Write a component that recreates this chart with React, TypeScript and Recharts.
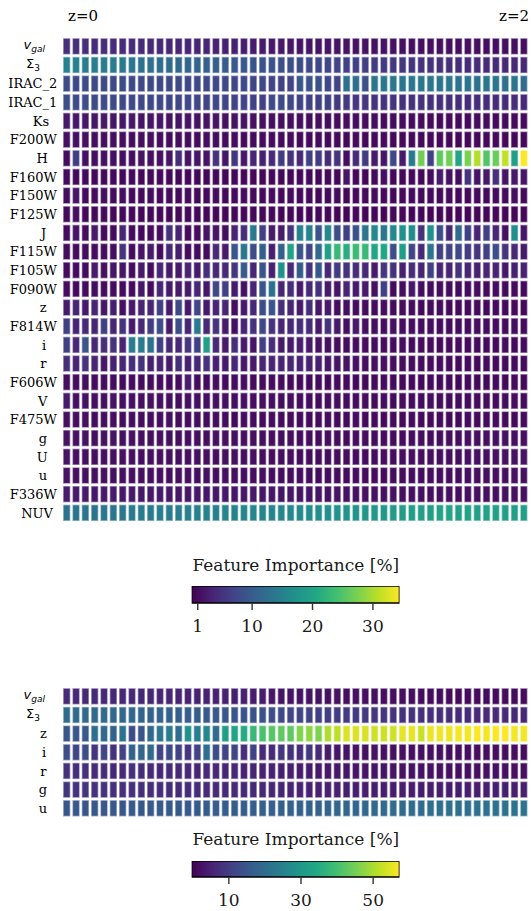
import React from 'react';
import { BarChart, Bar, XAxis, YAxis } from 'recharts';

const SERIF = '"DejaVu Serif", serif';
const SANS = '"DejaVu Sans", sans-serif';
const COLUMNS = 50;

// ---- top panel: feature importance [%] per redshift bin (z=0 .. z=2) ----
const topVgal = [4.6,4.5,4.5,4.4,4.5,4.3,4.3,4.2,4.2,4.0, 4.0,3.8,3.8,3.6,3.5,3.4,3.2,3.0,3.0,2.8, 2.6,2.5,2.3,2.2,2.1,2.0,2.0,1.9,1.9,1.8, 1.8,1.7,1.7,1.6,1.6,1.6,1.5,1.5,1.5,1.5, 1.4,1.4,1.4,1.4,1.3,1.3,1.3,1.3,1.3,1.3];
const topSigma3 = [15.0,14.8,14.6,14.5,14.3,14.2,14.0,13.5,13.0,12.6, 12.3,12.0,11.6,11.3,11.0,10.7,10.4,10.0,9.6,9.3, 9.0,8.8,8.6,8.4,8.2,7.9,7.6,7.3,7.1,6.9, 6.7,6.5,6.3,6.0,5.8,5.6,5.5,5.3,5.1,5.0, 4.8,4.7,4.5,4.4,4.3,4.2,4.1,4.0,3.9,3.8];
const topIrac2 = [7.8,7.6,7.8,7.7,7.5,7.6,7.8,7.4,7.5,7.7, 7.3,7.5,7.6,7.2,7.4,7.5,7.3,7.6,7.2,7.4, 7.0,7.2,6.8,6.6,6.9,9.2,8.8,8.5,7.2,7.0, 12.8,12.5,8.4,13.5,13.8,13.6,13.5,13.8,13.6,13.4, 13.2,13.6,12.9,13.4,13.0,13.5,13.3,12.8,13.4,12.2];
const topIrac1 = [8.0,7.9,8.1,7.8,7.8,7.9,7.6,7.7,7.5,7.4, 7.6,7.3,7.2,7.4,7.1,7.0,7.2,6.9,6.8,7.0, 6.7,6.6,7.6,7.8,7.5,6.8,6.6,6.4,6.5,5.8, 5.6,5.4,5.5,5.2,5.0,5.1,4.9,4.8,5.0,4.7, 4.6,4.7,4.5,4.4,4.5,4.3,4.4,4.2,4.3,4.1];
const topKs = [2.4,2.2,2.3,2.1,2.2,2.0,2.1,2.2,1.9,2.0, 2.1,1.8,1.9,2.0,1.7,1.8,1.9,1.6,1.7,1.8, 1.6,1.5,1.5,1.4,1.3,1.4,1.2,1.3,1.2,1.1, 1.3,1.2,1.1,1.2,1.0,1.1,1.2,1.0,1.1,1.0, 0.9,1.1,1.0,0.9,1.0,1.1,0.9,1.0,0.9,1.0];
const topF200W = [1.6,1.5,1.4,1.5,1.3,1.4,1.5,1.2,1.3,1.4, 1.2,1.1,1.3,1.2,1.0,1.1,1.2,1.0,1.1,0.9, 1.0,1.1,1.0,0.9,1.0,0.8,0.9,1.0,0.8,0.9, 0.8,0.9,0.7,0.8,0.9,0.7,0.8,0.7,0.8,0.9, 0.7,0.8,0.7,0.8,0.7,0.8,0.9,0.7,0.8,0.7];
const topH = [1.2,6.2,1.5,1.3,1.6,1.4,1.5,1.3,1.8,1.4, 1.6,2.0,4.5,1.8,2.0,1.8,5.0,2.0,5.5,2.2, 3.5,3.0,4.0,6.0,5.0,4.0,6.5,6.0,4.2,5.0, 1.5,4.2,6.0,2.5,2.0,7.5,2.5,14.0,27.0,6.5, 26.0,27.0,20.0,27.5,30.5,25.0,26.5,31.2,19.5,34.4];
const topF160W = [0.9,0.8,0.9,0.7,0.8,0.9,0.7,0.8,0.7,0.8, 0.9,0.7,0.8,0.7,0.6,0.7,0.8,0.6,0.7,0.6, 0.7,0.8,0.8,0.7,0.6,0.7,0.8,0.6,0.7,0.6, 1.8,0.7,0.6,0.8,1.5,0.7,0.6,0.8,0.7,1.0, 2.5,1.6,1.2,5.2,2.0,2.2,4.6,2.0,2.4,2.0];
const topF150W = [1.2,2.0,1.0,1.1,1.3,1.0,1.1,0.9,1.0,1.2, 0.9,1.0,0.9,1.1,0.8,0.9,1.0,0.8,0.9,1.0, 0.8,0.9,1.0,0.9,1.2,0.9,1.0,0.8,0.9,1.0, 0.8,0.9,0.8,1.0,0.9,0.8,0.9,1.0,0.8,0.9, 0.8,1.0,0.9,0.8,0.9,0.8,1.0,0.9,1.5,0.9];
const topF125W = [0.8,1.5,0.8,0.7,0.9,0.7,0.8,0.7,0.6,0.8, 0.7,0.6,0.7,0.8,0.6,0.7,0.6,0.7,0.8,0.6, 0.7,0.6,0.7,0.6,0.7,0.6,0.5,0.7,0.6,0.5, 0.6,0.7,0.5,0.6,0.5,0.6,0.7,0.5,0.6,0.5, 0.6,0.5,0.7,0.6,0.5,0.6,0.5,0.6,0.5,0.6];
const topJ = [1.0,2.0,1.0,2.5,1.0,1.0,3.5,1.0,0.9,1.0, 1.2,4.8,3.4,1.0,1.1,2.0,2.0,1.2,3.4,4.5, 14.0,6.5,2.5,2.5,5.0,15.0,15.0,9.0,16.0,8.0, 6.5,8.5,13.5,16.0,13.5,16.0,17.0,16.5,5.0,17.0, 8.0,3.5,12.0,6.5,3.5,6.5,3.5,1.5,16.5,2.0];
const topF115W = [1.0,1.0,1.2,1.1,1.0,1.1,5.0,1.0,2.0,2.5, 1.0,4.0,3.0,1.1,1.0,1.0,4.0,2.5,9.0,13.5, 8.0,10.5,2.8,10.5,19.8,9.0,7.0,12.0,19.5,23.0, 21.5,23.5,23.0,20.0,20.5,8.0,19.0,7.0,4.0,13.5, 6.5,7.0,7.5,6.0,5.5,6.5,8.0,5.0,4.0,2.5];
const topF105W = [1.0,1.0,1.0,2.5,1.5,2.0,2.0,1.0,2.5,1.0, 3.5,2.5,2.5,3.5,2.5,4.5,4.0,4.0,5.5,10.0, 3.5,9.0,3.0,17.0,4.0,10.0,5.0,9.5,4.0,6.0, 5.0,4.5,4.0,2.5,5.5,5.0,3.0,4.5,3.5,6.5, 3.5,3.5,5.0,3.5,3.0,3.5,3.2,2.3,3.0,3.2];
const topF090W = [1.0,0.9,1.0,1.2,1.0,1.1,1.0,1.0,2.3,1.0, 3.5,2.5,2.5,2.5,3.5,2.0,7.5,6.5,2.5,1.5, 3.5,9.0,13.0,3.5,4.5,2.5,4.0,5.0,2.5,2.0, 3.5,2.5,2.5,1.5,6.5,1.0,1.2,2.3,1.2,1.0, 1.1,1.0,0.9,1.0,1.1,0.9,1.0,0.9,1.0,0.9];
const topZ = [2.5,3.5,2.5,3.5,2.3,3.0,1.3,2.5,3.5,3.5, 6.5,2.5,7.5,2.5,7.0,2.5,3.5,3.5,1.3,2.5, 3.8,8.0,9.0,4.5,3.5,2.5,4.5,2.3,2.5,1.2, 1.5,1.2,1.1,1.0,1.1,1.0,1.1,1.0,0.9,1.0, 1.1,0.9,1.0,0.9,1.0,0.9,1.0,0.9,1.0,0.9];
const topF814W = [6.5,3.5,4.0,3.5,6.5,3.5,5.0,2.5,4.0,6.0, 8.0,2.5,8.0,3.5,14.0,4.0,5.0,2.5,1.5,3.5, 5.0,7.5,5.0,3.5,3.8,4.5,4.3,2.5,5.0,2.5, 1.5,2.5,1.5,1.3,1.2,1.5,1.2,1.3,1.1,1.2, 1.0,1.1,1.2,1.0,1.1,1.0,1.2,1.0,1.1,1.0];
const topI = [6.5,4.0,9.0,4.0,4.5,5.0,3.5,14.5,14.5,13.0, 6.5,4.0,4.0,5.5,6.5,19.5,4.0,2.5,4.5,2.5, 2.0,6.5,4.5,2.5,2.5,3.0,2.5,1.8,1.5,1.3, 1.2,1.3,1.1,1.2,1.0,1.1,1.2,1.0,1.1,1.0, 0.9,1.0,1.1,0.9,1.0,0.9,1.0,1.1,0.9,1.0];
const topR = [4.5,3.5,5.0,3.5,2.3,3.0,3.5,4.5,5.0,3.0, 3.5,2.5,4.5,3.0,3.8,5.0,3.0,2.5,3.8,2.3, 2.5,3.5,3.5,3.5,3.5,3.3,3.2,3.0,2.2,2.0, 1.8,1.6,1.5,1.5,1.4,1.3,1.3,1.2,1.2,1.1, 1.1,1.0,1.0,1.0,0.9,1.0,0.9,1.0,0.9,1.0];
const topF606W = [1.3,1.1,1.2,1.0,1.1,1.2,1.0,1.1,1.0,1.2, 1.1,1.0,1.2,2.8,1.1,1.0,1.2,1.0,1.1,1.3, 1.0,1.1,1.0,1.1,0.9,1.0,0.9,1.0,0.8,0.9, 1.0,0.8,0.9,0.8,0.9,1.0,0.8,0.9,0.8,0.9, 0.8,0.9,0.8,0.9,0.8,0.8,0.9,0.8,0.9,0.8];
const topV = [2.5,1.5,1.6,1.4,1.5,1.8,1.4,1.5,1.4,1.6, 1.5,1.4,1.3,1.5,1.4,1.3,1.4,1.6,1.3,1.4, 1.3,1.4,1.3,1.2,1.3,1.2,1.1,1.2,1.1,1.2, 1.1,1.0,1.1,1.0,1.1,1.0,1.1,1.0,1.0,1.1, 1.0,1.0,1.1,1.0,1.0,1.1,1.0,1.0,1.1,1.0];
const topF475W = [1.5,1.3,1.4,1.2,1.3,1.4,1.2,1.3,1.2,1.3, 1.2,1.4,1.2,1.1,1.3,1.2,1.1,1.2,0.8,1.1, 1.2,1.0,1.1,1.0,1.1,1.0,1.0,1.1,1.0,0.9, 1.0,1.0,0.9,1.0,0.9,1.0,0.9,1.0,0.9,0.9, 1.0,0.9,0.9,1.0,0.9,0.9,1.0,0.9,0.9,1.0];
const topG = [1.8,1.6,1.7,1.5,1.6,1.7,1.5,1.6,1.5,1.4, 1.6,1.5,1.4,1.5,1.4,1.3,1.5,1.4,1.3,1.4, 1.3,1.4,1.3,1.2,1.3,1.2,1.3,1.2,1.1,1.2, 1.1,1.2,1.1,1.2,1.1,1.2,1.1,1.2,1.3,1.2, 1.3,1.4,1.3,1.4,1.5,1.4,1.5,1.6,1.5,1.6];
const topUpperU = [1.7,1.6,1.6,1.5,1.6,1.5,1.6,1.5,1.4,1.5, 1.6,1.4,1.5,1.4,1.5,1.4,1.3,1.4,1.5,1.3, 1.4,1.3,1.3,1.2,1.3,1.2,1.2,1.3,1.2,1.1, 1.2,1.2,1.1,1.2,1.3,1.2,1.3,1.4,1.3,1.4, 1.5,1.4,1.5,1.6,1.5,1.6,1.7,1.6,1.7,1.8];
const topLowerU = [1.7,1.5,1.6,1.5,1.4,1.5,1.6,1.4,1.5,1.4, 1.5,1.3,1.4,1.5,1.3,1.4,1.3,1.4,1.3,1.2, 1.3,1.4,1.2,1.3,1.2,1.1,1.2,1.1,1.2,1.1, 1.0,1.1,1.0,1.1,1.0,1.1,1.2,1.1,1.2,1.3, 1.2,1.3,1.4,1.3,1.4,1.5,1.4,1.5,1.6,1.5];
const topF336W = [2.6,2.4,2.5,2.3,2.4,2.5,2.3,2.4,2.2,2.3, 2.4,2.2,2.3,2.1,2.2,2.3,2.1,2.2,2.0,2.1, 2.2,2.0,2.0,1.9,2.0,1.8,1.9,1.8,1.7,1.8, 1.7,1.6,1.7,1.6,1.5,1.6,1.5,1.4,1.5,1.4, 1.5,1.4,1.3,1.4,1.5,1.4,1.5,1.4,1.5,1.6];
const topNUV = [13.0,13.2,13.3,13.0,13.5,13.4,13.6,14.0,14.2,14.0, 14.5,14.3,14.6,14.8,15.0,15.2,15.0,15.5,15.3,15.6, 15.8,15.5,15.6,15.8,15.9,16.2,16.5,16.8,17.0,17.4, 17.6,17.5,17.9,18.2,18.4,18.6,18.8,19.0,19.4,19.2, 19.8,20.0,19.6,19.8,19.5,19.9,19.6,19.4,19.2,19.0];

const topLabels = ['v_gal', 'Σ3', 'IRAC_2', 'IRAC_1', 'Ks', 'F200W', 'H', 'F160W', 'F150W', 'F125W', 'J', 'F115W', 'F105W', 'F090W', 'z', 'F814W', 'i', 'r', 'F606W', 'V', 'F475W', 'g', 'U', 'u', 'F336W', 'NUV'];
const topRows = [topVgal, topSigma3, topIrac2, topIrac1, topKs, topF200W, topH, topF160W, topF150W, topF125W, topJ, topF115W, topF105W, topF090W, topZ, topF814W, topI, topR, topF606W, topV, topF475W, topG, topUpperU, topLowerU, topF336W, topNUV];
const topRange: [number, number] = [0, 34.4];
const topTicks = [1, 10, 20, 30];

// ---- bottom panel ----
const botVgal = [6.5,6.4,6.3,6.4,6.2,6.1,6.0,6.1,5.9,5.8, 5.7,5.6,5.5,5.3,5.2,5.0,4.9,4.8,4.6,4.5, 4.3,4.2,3.2,3.0,2.9,2.8,2.6,2.5,2.4,2.3, 2.2,2.1,2.0,2.0,1.9,1.8,1.8,1.7,1.7,1.6, 1.6,1.5,1.5,1.5,1.4,1.4,1.4,1.3,1.3,1.3];
const botSigma3 = [19.8,19.6,19.5,19.3,19.4,19.0,18.8,18.5,18.3,18.0, 17.6,17.3,17.0,16.6,16.3,16.0,15.6,15.3,15.0,14.7, 14.4,14.0,13.2,12.0,11.8,11.2,10.8,10.5,10.2,9.8, 9.5,9.2,9.0,8.7,8.5,8.2,8.0,7.8,7.6,7.4, 7.2,7.0,6.9,6.8,6.6,6.5,6.4,6.3,6.2,6.1];
const botZ = [15.0,15.0,15.5,20.5,19.0,18.0,21.5,13.0,15.0,19.0, 22.0,23.5,20.0,28.5,24.0,26.0,19.5,31.5,33.0,35.0, 38.0,40.5,42.0,43.0,43.0,46.5,47.5,46.0,50.5,51.5, 54.3,54.3,54.0,53.2,53.2,53.0,55.2,55.2,52.5,55.8, 55.9,55.8,56.6,56.3,57.3,56.6,57.0,57.3,56.3,56.3];
const botI = [13.5,11.5,13.5,8.5,11.5,8.0,11.0,18.0,18.5,19.5, 11.0,13.0,11.0,8.5,11.0,20.5,13.0,11.0,11.5,7.0, 11.0,6.5,6.5,8.5,8.0,7.0,9.0,6.5,4.0,3.0, 2.8,2.6,2.4,2.5,2.3,2.2,2.4,2.1,2.2,2.0, 2.1,1.9,2.0,1.9,1.8,1.9,1.8,1.7,1.8,1.7];
const botR = [8.0,7.0,7.5,6.5,7.0,6.0,6.5,7.5,7.0,6.5, 6.0,7.0,6.5,6.0,5.5,6.5,6.0,5.5,6.0,5.0, 5.5,5.0,5.0,4.5,4.8,4.2,4.0,3.8,3.5,3.3, 3.2,3.0,3.0,2.8,2.8,2.6,2.6,2.5,2.5,2.4, 2.4,2.3,2.3,2.2,2.2,2.1,2.1,2.0,2.0,2.0];
const botG = [8.5,8.0,8.3,7.8,8.0,7.6,7.8,7.4,7.5,7.2, 7.3,7.0,7.1,6.8,6.9,6.6,6.7,6.4,6.5,6.2, 6.3,6.0,5.8,5.6,5.5,5.3,5.2,5.0,4.9,4.8, 4.7,4.6,4.5,4.4,4.4,4.3,4.3,4.2,4.2,4.3, 4.3,4.4,4.4,4.5,4.5,4.6,4.6,4.7,4.8,4.8];
const botU = [15.0,15.2,14.8,15.4,15.2,15.5,15.1,15.6,15.4,15.8, 15.6,16.0,15.7,16.2,16.0,16.4,16.1,16.6,16.4,16.8, 16.6,17.0,17.0,17.3,17.4,17.6,17.9,18.0,18.2,18.5, 18.6,18.8,19.1,19.2,19.4,19.7,19.8,20.0,20.3,20.4, 20.6,20.8,21.0,20.9,21.2,21.1,21.4,21.3,21.6,21.5];

const botLabels = ['v_gal', 'Σ3', 'z', 'i', 'r', 'g', 'u'];
const botRows = [botVgal, botSigma3, botZ, botI, botR, botG, botU];
const botRange: [number, number] = [-0.3, 57.3];
const botTicks = [10, 30, 50];

const VIRIDIS = ['#440154', '#482475', '#414487', '#355f8d', '#2a788e', '#21918c', '#22a884', '#44bf70', '#7ad151', '#bddf26', '#fde725'];

const hexRgb = (h: string) => [1, 3, 5].map(i => parseInt(h.slice(i, i + 2), 16));

function viridis(t: number): string {
  const c = Math.max(0, Math.min(1, t)) * (VIRIDIS.length - 1);
  const i = Math.min(Math.floor(c), VIRIDIS.length - 2);
  const f = c - i;
  const a = hexRgb(VIRIDIS[i]);
  const b = hexRgb(VIRIDIS[i + 1]);
  const m = a.map((v, k) => Math.round(v + (b[k] - v) * f));
  return `rgb(${m[0]},${m[1]},${m[2]})`;
}

let measureCtx: CanvasRenderingContext2D | null = null;
function textWidth(s: string, font: string) {
  if (!measureCtx) measureCtx = document.createElement('canvas').getContext('2d');
  if (!measureCtx) return s.length * 8;
  measureCtx.font = font;
  return measureCtx.measureText(s).width;
}

const RowLabel = (props: any) => {
  const { y, payload, labels } = props;
  const label = labels[Math.floor(payload.value)];
  if (label === 'v_gal') {
    return (
      <text x={45} y={y + 3} textAnchor="end" fontFamily={SANS} fill="#000">
        <tspan fontSize={13} fontStyle="italic">v</tspan>
        <tspan fontSize={9} fontStyle="italic" dy={3}>gal</tspan>
      </text>
    );
  }
  if (label === 'Σ3') {
    return (
      <text x={40} y={y + 3.5} textAnchor="end" fontFamily={SANS} fill="#000">
        <tspan fontSize={13}>Σ</tspan>
        <tspan fontSize={9} dy={3}>3</tspan>
      </text>
    );
  }
  const w = textWidth(label, '13px "DejaVu Serif"');
  return (
    <text x={45 - 0.25 * w} y={y + 4.7} textAnchor="middle" fontFamily={SERIF} fontSize={13} fill="#000">
      {label}
    </text>
  );
};

const HeatCell = (props: any) => {
  const { x, y, width, height, color } = props;
  const top = Math.min(y, y + height);
  const h = Math.abs(height);
  const cx = x + width / 2;
  const w = 7.3;
  return (
    <rect x={cx - w / 2} y={top + 1.15} width={w} height={Math.max(h - 2.3, 0)}
      fill={color} stroke="#ffffff" strokeOpacity={0.5} strokeWidth={1.5} />
  );
};

function Heatmap({ rows, labels, range, top }: { rows: number[][]; labels: string[]; range: [number, number]; top: number }) {
  const data = Array.from({ length: COLUMNS }, (_, c) => {
    const o: any = { col: c };
    rows.forEach((_, r) => { o['r' + r] = 1; });
    return o;
  });
  const ticks = rows.map((_, i) => i + 0.5);
  const height = rows.length * 18.66;
  return (
    <div style={{ position: 'absolute', left: 0, top }}>
      <BarChart width={531} height={height} data={data} margin={{ top: 0, right: 2.3, bottom: 0, left: 2.2 }} barCategoryGap={0} barGap={0}>
        <XAxis dataKey="col" type="category" hide />
        <YAxis type="number" domain={[0, rows.length]} reversed ticks={ticks} interval={0} width={60}
          axisLine={false} tickLine={false} tickSize={0} tickMargin={0} allowDataOverflow
          tick={<RowLabel labels={labels} />} />
        {rows.map((row, r) => (
          <Bar key={r} dataKey={'r' + r} stackId="s" isAnimationActive={false}
            shape={(p: any) => <HeatCell {...p} color={viridis((row[p.payload.col] - range[0]) / (range[1] - range[0]))} />} />
        ))}
      </BarChart>
    </div>
  );
}

function Colorbar({ top, range, ticks, id, barHeight }: { top: number; range: [number, number]; ticks: number[]; id: string; barHeight: number }) {
  const data = [{ name: 'cb', v: [range[0], range[1]] }];
  return (
    <div style={{ position: 'absolute', left: 0, top }}>
      <BarChart layout="vertical" width={531} height={barHeight + 40} data={data}
        margin={{ top: 0, left: 191.7, right: 131.5, bottom: 0 }} barCategoryGap={0}>
        <defs>
          <linearGradient id={id} x1="0" y1="0" x2="1" y2="0">
            {VIRIDIS.map((c, i) => <stop key={i} offset={`${(i / (VIRIDIS.length - 1)) * 100}%`} stopColor={c} />)}
          </linearGradient>
        </defs>
        <XAxis type="number" domain={range} ticks={ticks} interval={0} allowDataOverflow height={40}
          axisLine={false} tickSize={7} tickMargin={10}
          tickLine={{ stroke: '#333', strokeWidth: 1.4 }}
          tick={{ fill: '#1a1a1a', fontSize: 17, fontFamily: SERIF }} />
        <YAxis type="category" dataKey="name" hide />
        <Bar dataKey="v" fill={`url(#${id})`} stroke="#000" strokeWidth={1.6} isAnimationActive={false} />
      </BarChart>
    </div>
  );
}

export default function App() {
  return (
    <div style={{ position: 'absolute', left: 0, top: 0, width: 531, height: 911, background: '#fff', overflow: 'hidden' }}>
      <Heatmap rows={topRows} labels={topLabels} range={topRange} top={36.5} />
      <Colorbar top={586} range={topRange} ticks={topTicks} id="cbTop" barHeight={17} />
      <Heatmap rows={botRows} labels={botLabels} range={botRange} top={687.1} />
      <Colorbar top={861} range={botRange} ticks={botTicks} id="cbBot" barHeight={16} />
      <svg width={531} height={911} style={{ position: 'absolute', left: 0, top: 0, pointerEvents: 'none' }}>
        <text x={68} y={20.5} fontFamily={SERIF} fontSize={15} fill="#000">z=0</text>
        <text x={499} y={20.5} fontFamily={SERIF} fontSize={15} fill="#000">z=2</text>
        <text x={295.8} y={570.5} textAnchor="middle" fontFamily={SERIF} fontSize={17} fill="#1a1a1a">Feature Importance [%]</text>
        <text x={295.8} y={844.5} textAnchor="middle" fontFamily={SERIF} fontSize={17} fill="#1a1a1a">Feature Importance [%]</text>
      </svg>
    </div>
  );
}
